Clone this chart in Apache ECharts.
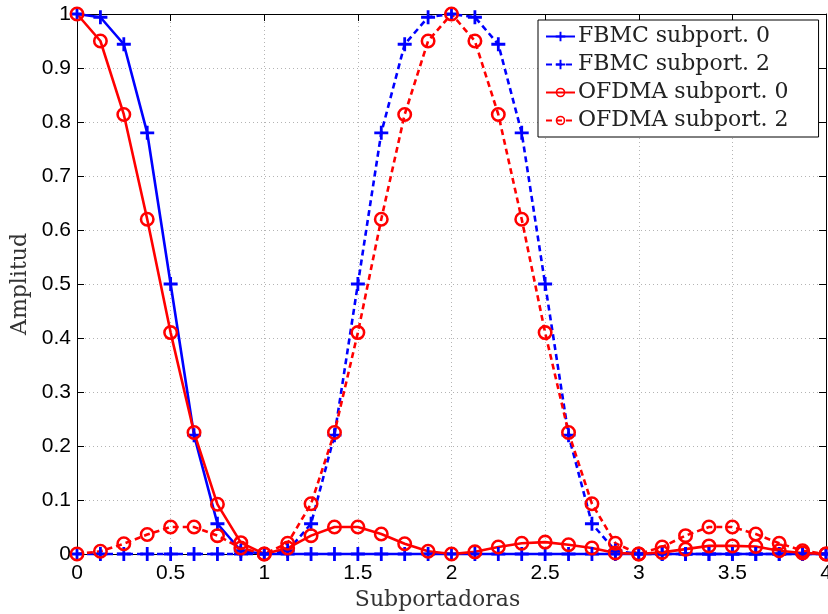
<!DOCTYPE html>
<html>
<head>
<meta charset="utf-8">
<script src="https://cdn.jsdelivr.net/npm/echarts@6/dist/echarts.min.js"></script>
<style>
  html, body { margin: 0; padding: 0; background: #fff; }
  #chart { width: 828px; height: 614px; }
</style>
</head>
<body>
<div id="chart"></div>
<script>
// Sample positions along the frequency axis (in subcarrier spacings)
const subcarriers = [0, 0.125, 0.25, 0.375, 0.5, 0.625, 0.75, 0.875, 1,
  1.125, 1.25, 1.375, 1.5, 1.625, 1.75, 1.875, 2,
  2.125, 2.25, 2.375, 2.5, 2.625, 2.75, 2.875, 3,
  3.125, 3.25, 3.375, 3.5, 3.625, 3.75, 3.875, 4];

const fbmcSub0 = [1, 0.994, 0.944, 0.78, 0.5, 0.22, 0.056, 0.006, 0,
  0, 0, 0, 0, 0, 0, 0, 0,
  0, 0, 0, 0, 0, 0, 0, 0,
  0, 0, 0, 0, 0, 0, 0, 0];

const fbmcSub2 = [0, 0, 0, 0, 0, 0, 0, 0, 0,
  0.006, 0.056, 0.22, 0.5, 0.78, 0.944, 0.994, 1,
  0.994, 0.944, 0.78, 0.5, 0.22, 0.056, 0.006, 0,
  0, 0, 0, 0, 0, 0, 0, 0];

const ofdmaSub0 = [1, 0.95, 0.814, 0.62, 0.41, 0.225, 0.092, 0.021, 0,
  0.011, 0.034, 0.05, 0.05, 0.037, 0.019, 0.005, 0,
  0.004, 0.013, 0.02, 0.022, 0.017, 0.011, 0.002, 0,
  0.003, 0.009, 0.015, 0.015, 0.014, 0.006, 0.002, 0];

const ofdmaSub2 = [0, 0.005, 0.019, 0.036, 0.05, 0.05, 0.034, 0.011, 0,
  0.02, 0.093, 0.225, 0.41, 0.62, 0.814, 0.95, 1,
  0.95, 0.814, 0.62, 0.41, 0.225, 0.093, 0.02, 0,
  0.013, 0.034, 0.05, 0.05, 0.037, 0.02, 0.006, 0];

const xTicks = ['0', '0.5', '1', '1.5', '2', '2.5', '3', '3.5', '4'];
const yTicks = ['0', '0.1', '0.2', '0.3', '0.4', '0.5', '0.6', '0.7', '0.8', '0.9', '1'];

const seriesNames = ['FBMC subport. 0', 'FBMC subport. 2', 'OFDMA subport. 0', 'OFDMA subport. 2'];

// Marker shapes: a bold plus sign and an open ring (line visible through it)
const plusSymbol = 'path://M4,0h2v4h4v2h-4v4h-2v-4h-4v-2h4z';
const ringSymbol = 'path://M0,5A5,5 0 1,1 10,5A5,5 0 1,1 0,5Z M1.7,5A3.3,3.3 0 1,0 8.3,5A3.3,3.3 0 1,0 1.7,5Z';

const BLUE = '#0000ff';
const RED = '#ff0000';
const serifFont = 'DejaVu Serif';
const sansFont = 'Liberation Sans';

function pairs(ys) {
  return subcarriers.map((x, i) => [x, ys[i]]);
}

function makeSeries(name, ys, color, symbol, size, dashed) {
  return {
    name: name,
    type: 'line',
    data: pairs(ys),
    symbol: symbol,
    symbolSize: size,
    showAllSymbol: true,
    animation: false,
    clip: false,
    lineStyle: { color: color, width: 2.6, type: dashed ? [6, 4] : 'solid' },
    itemStyle: { color: color, borderWidth: 0 },
    emphasis: { disabled: true },
    z: 3
  };
}

const chart = echarts.init(document.getElementById('chart'), null, { renderer: 'canvas' });

const gridLine = { show: true, lineStyle: { color: '#b4b4b4', type: [1, 3], width: 1 } };

chart.setOption({
  backgroundColor: '#ffffff',
  animation: false,
  grid: { left: 77, right: 2, top: 14, bottom: 60, containLabel: false, outerBoundsMode: 'none' },
  legend: {
    orient: 'vertical',
    left: 538,
    top: 20,
    data: seriesNames,
    backgroundColor: '#ffffff',
    borderColor: '#000000',
    borderWidth: 1,
    padding: [5, 30, 5, 7],
    itemWidth: 29,
    itemHeight: 12,
    itemGap: 5,
    textStyle: { fontFamily: serifFont, fontSize: 22, lineHeight: 23, color: '#222222', padding: [0, 0, 0, -2] },
    selectedMode: false
  },
  xAxis: [
    {
      type: 'value', min: 0, max: 4, interval: 0.5,
      axisLine: { show: true, onZero: false, lineStyle: { color: '#000', width: 1 } },
      axisTick: { show: true, inside: true, length: 7, lineStyle: { color: '#000' } },
      axisLabel: {
        margin: 9, fontFamily: sansFont, fontSize: 21, color: '#000',
        formatter: v => xTicks[Math.round(v / 0.5)]
      },
      splitLine: gridLine,
      name: 'Subportadoras',
      nameLocation: 'middle',
      nameGap: 35,
      nameTextStyle: { fontFamily: serifFont, fontSize: 22, color: '#333', padding: [0, 28, 0, 0] }
    },
    {
      type: 'value', min: 0, max: 4, interval: 0.5, position: 'top',
      axisLine: { show: true, onZero: false, lineStyle: { color: '#000', width: 1 } },
      axisTick: { show: true, inside: true, length: 7, lineStyle: { color: '#000' } },
      axisLabel: { show: false },
      splitLine: { show: false }
    }
  ],
  yAxis: [
    {
      type: 'value', min: 0, max: 1, interval: 0.1,
      axisLine: { show: true, onZero: false, lineStyle: { color: '#000', width: 1 } },
      axisTick: { show: true, inside: true, length: 7, lineStyle: { color: '#000' } },
      axisLabel: {
        margin: 6, fontFamily: sansFont, fontSize: 21, color: '#000',
        formatter: v => yTicks[Math.round(v * 10)]
      },
      splitLine: gridLine,
      name: 'Amplitud',
      nameLocation: 'middle',
      nameGap: 44,
      nameTextStyle: { fontFamily: serifFont, fontSize: 22, color: '#333', padding: [0, 0, 0, 0] }
    },
    {
      type: 'value', min: 0, max: 1, interval: 0.1, position: 'right',
      axisLine: { show: true, onZero: false, lineStyle: { color: '#000', width: 1 } },
      axisTick: { show: true, inside: true, length: 7, lineStyle: { color: '#000' } },
      axisLabel: { show: false },
      splitLine: { show: false }
    }
  ],
  series: [
    makeSeries(seriesNames[0], fbmcSub0, BLUE, plusSymbol, 14, false),
    makeSeries(seriesNames[1], fbmcSub2, BLUE, plusSymbol, 14, true),
    makeSeries(seriesNames[2], ofdmaSub0, RED, ringSymbol, 15, false),
    makeSeries(seriesNames[3], ofdmaSub2, RED, ringSymbol, 15, true)
  ]
});
</script>
</body>
</html>
